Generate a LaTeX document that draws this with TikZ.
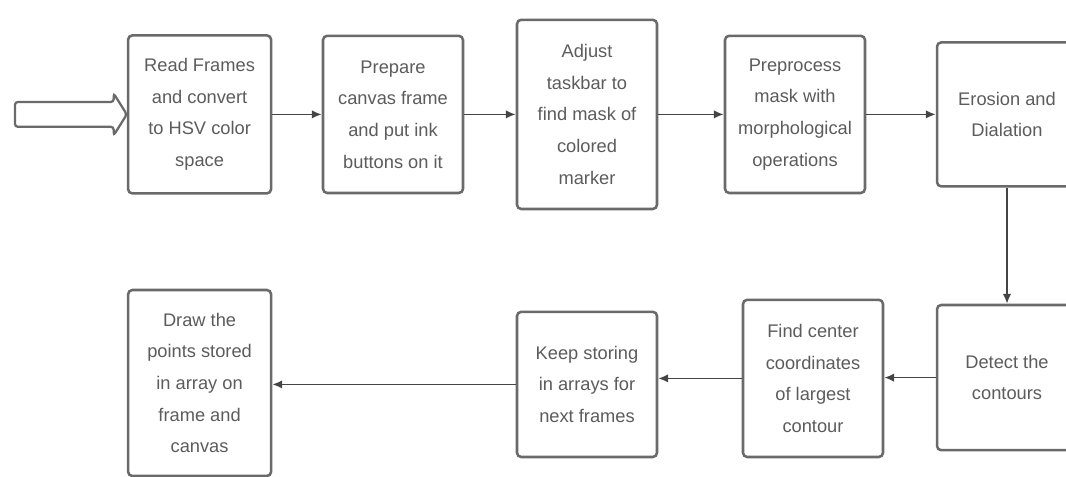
\documentclass[tikz,border=0pt]{standalone}
\usepackage{fontspec}
\setmainfont{Liberation Sans}
\usepackage{tikz}
\usetikzlibrary{arrows.meta,calc}
\definecolor{flowedge}{HTML}{6A6A6A}
\definecolor{flowtext}{HTML}{5C5C5C}
\definecolor{flowink}{HTML}{454545}

\begin{document}
\begin{tikzpicture}[
  stage/.style={rounded corners=3pt, draw=flowedge, line width=1.8pt, fill=white,
                inner sep=2pt, align=center, text=flowtext,
                font=\fontsize{13}{22.5}\selectfont},
  lf/.style={-{Latex[length=7pt,width=6pt]}, flowink, line width=1.2pt},
  hollow/.style={draw=flowedge, line width=1.6pt, fill=white, rounded corners=2pt},
]
\useasboundingbox (0,0) rectangle (26.65,-11.925);
\clip (0,0) rectangle (26.65,-11.925);
\node[stage, minimum width=3.575cm, minimum height=3.95cm] (read) at (4.99,-2.86)
   {Read Frames\\and convert\\to HSV color\\space};
\node[stage, minimum width=3.5cm, minimum height=3.93cm] (canvas) at (9.825,-2.86)
   {Prepare\\canvas frame\\and put ink\\buttons on it};
\node[stage, minimum width=3.5cm, minimum height=4.73cm] (mask) at (14.675,-2.86)
   {Adjust\\taskbar to\\find mask of\\colored\\marker};
\node[stage, minimum width=3.5cm, minimum height=3.93cm] (morph) at (19.875,-2.86)
   {Preprocess\\mask with\\morphological\\operations};
\node[stage, minimum width=3.5cm, minimum height=3.6cm] (erode) at (25.175,-2.86)
   {Erosion and\\Dialation};
\node[stage, minimum width=3.5cm, minimum height=3.63cm] (contour) at (25.175,-9.44)
   {Detect the\\contours};
\node[stage, minimum width=3.5cm, minimum height=3.93cm] (centre) at (20.325,-9.46)
   {Find center\\coordinates\\of largest\\contour};
\node[stage, minimum width=3.5cm, minimum height=3.63cm] (store) at (14.675,-9.61)
   {Keep storing\\in arrays for\\next frames};
\node[stage, minimum width=3.575cm, minimum height=4.65cm] (draw) at (4.99,-9.575)
   {Draw the\\points stored\\in array on\\frame and\\canvas};
\coordinate (in) at (0.375,-2.86);
\draw[hollow] ($(in)+(0,0.31)$) -- ($(read.west)+(-0.33,0.31)$)
   -- ($(read.west)+(-0.33,0.525)$) -- (read.west)
   -- ($(read.west)+(-0.33,-0.525)$) -- ($(read.west)+(-0.33,-0.31)$)
   -- ($(in)+(0,-0.31)$) -- cycle;
\draw[lf] (read.east) -- (canvas.west);
\draw[lf] (canvas.east) -- (mask.west);
\draw[lf] (mask.east) -- (morph.west);
\draw[lf] (morph.east) -- (erode.west);
\draw[lf] (erode.south) -- (contour.north);
\draw[lf] (contour.west) -- (contour.west -| centre.east);
\draw[lf] (centre.west) -- (centre.west -| store.east);
\draw[lf] (store.west) -- (store.west -| draw.east);
\end{tikzpicture}
\end{document}
